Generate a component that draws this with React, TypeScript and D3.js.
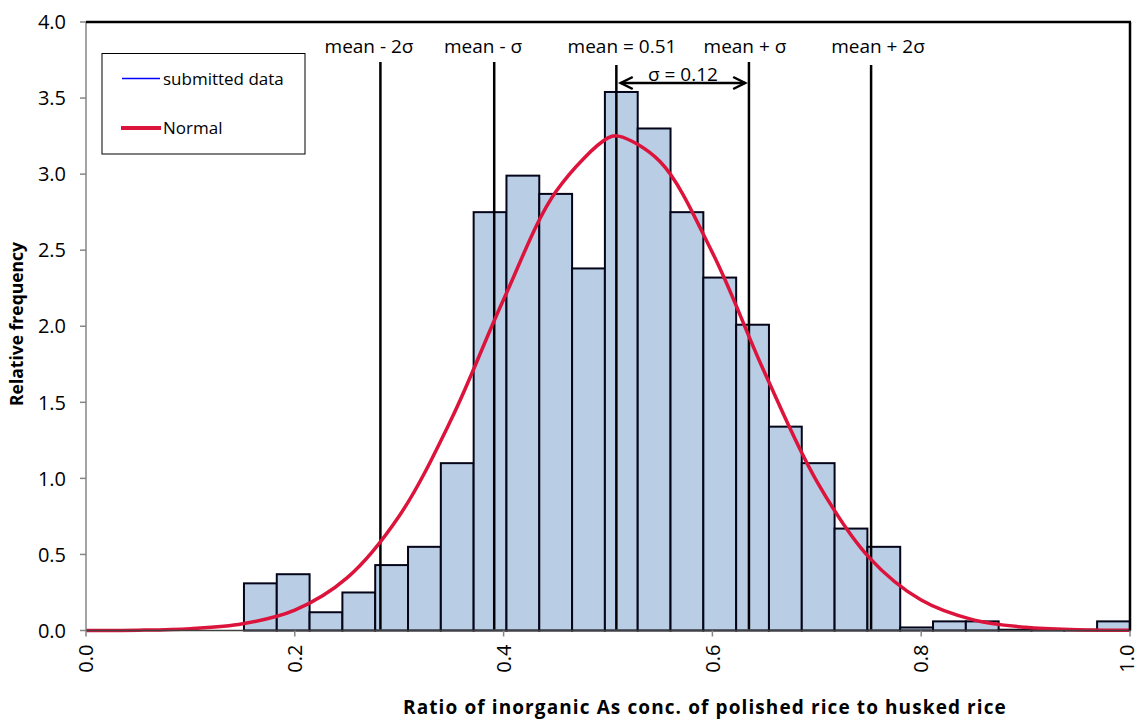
import React from "react";
import * as d3 from "d3";

// Histogram bins: first lower edge and common width (ratio units)
const binStart = 0.1513;
const binWidth = 0.03143;
const frequencies = [
  0.31, 0.37, 0.12, 0.25, 0.43, 0.55, 1.1, 2.75, 2.99, 2.87, 2.38, 3.54, 3.3,
  2.75, 2.32, 2.01, 1.34, 1.1, 0.67, 0.55, 0.02, 0.06, 0.06, 0.005, 0.005,
  0.005, 0.06,
];

// Fitted normal curve, sampled
const normalX = [
  0.0, 0.05, 0.1, 0.15, 0.2, 0.25, 0.3, 0.35, 0.4, 0.45, 0.5, 0.51, 0.55, 0.6,
  0.65, 0.7, 0.75, 0.8, 0.85, 0.9, 0.95, 1.0,
];
const normalY = [
  0.0005, 0.002, 0.012, 0.044, 0.134, 0.346, 0.753, 1.39, 2.176, 2.884, 3.238,
  3.25, 3.081, 2.484, 1.696, 0.981, 0.481, 0.2, 0.07, 0.021, 0.005, 0.001,
];

// Reference lines at mean and mean ± σ, 2σ
const refLineX = [0.282, 0.391, 0.508, 0.635, 0.752];
const refLabels = ["mean - 2σ", "mean - σ", "mean = 0.51", "mean + σ", "mean + 2σ"];
const refLabelX = [0.2711, 0.3803, 0.5134, 0.6312, 0.7586];
const sigmaArrow = [0.5122, 0.6314];
const sigmaLabel = "σ = 0.12";

const xTicks = [0, 0.2, 0.4, 0.6, 0.8, 1.0];
const yTicks = [0, 0.5, 1, 1.5, 2, 2.5, 3, 3.5, 4];

const W = 1139;
const H = 722;
const plot = { left: 86, right: 1130, top: 22, bottom: 630.5 };
const FONT = "'Open Sans', Carlito, Calibri, sans-serif";

export default function App() {
  const x = d3.scaleLinear().domain([0, 1]).range([plot.left, plot.right]);
  const y = d3.scaleLinear().domain([0, 4]).range([plot.bottom, plot.top]);

  const normalLine = d3
    .line<number>()
    .x((_, i) => x(normalX[i]))
    .y((d) => y(d))
    .curve(d3.curveCatmullRom.alpha(0.5))(normalY);

  const ax0 = x(sigmaArrow[0]);
  const ax1 = x(sigmaArrow[1]);
  const ay = 83;

  return (
    <svg
      width={W}
      height={H}
      style={{ position: "absolute", left: 0, top: 0, background: "#fff" }}
      fontFamily={FONT}
    >
      {/* bars */}
      <g>
        {frequencies.map((f, i) => {
          const x0 = x(binStart + i * binWidth);
          const x1 = x(binStart + (i + 1) * binWidth);
          return (
            <rect
              key={i}
              x={x0}
              y={y(f)}
              width={x1 - x0}
              height={y(0) - y(f)}
              fill="#b9cde5"
              stroke="#05051a"
              strokeWidth={2}
            />
          );
        })}
      </g>

      {/* reference lines */}
      {refLineX.map((v, i) => (
        <line
          key={i}
          x1={x(v)}
          x2={x(v)}
          y1={i === 2 || i === 4 ? 65 : 62}
          y2={y(0) - 1}
          stroke="#000"
          strokeWidth={2.5}
        />
      ))}

      {/* normal curve */}
      <path d={normalLine || ""} fill="none" stroke="#dc143c" strokeWidth={3.5} />

      {/* axes */}
      <line x1={plot.left} x2={plot.left} y1={plot.top} y2={plot.bottom} stroke="#868686" strokeWidth={1.5} />
      <line x1={plot.left} x2={plot.right} y1={plot.bottom} y2={plot.bottom} stroke="#404040" strokeWidth={1.5} />
      <line x1={plot.left} x2={plot.right + 1} y1={plot.top} y2={plot.top} stroke="#000" strokeWidth={2.5} />
      <line x1={plot.right} x2={plot.right} y1={plot.top} y2={plot.bottom} stroke="#000" strokeWidth={2.5} />

      {yTicks.map((t) => (
        <g key={t}>
          <line x1={plot.left - 6} x2={plot.left} y1={y(t)} y2={y(t)} stroke="#868686" strokeWidth={1.5} />
          <text x={66} y={y(t)} dy="0.36em" textAnchor="end" fontSize={20} fill="#000">
            {d3.format(".1f")(t)}
          </text>
        </g>
      ))}

      {xTicks.map((t) => (
        <g key={t}>
          <line x1={x(t)} x2={x(t)} y1={plot.bottom} y2={plot.bottom + 6} stroke="#868686" strokeWidth={1.5} />
          <text
            transform={`translate(${Math.min(x(t), 1127)},${plot.bottom + 14}) rotate(-90)`}
            dy="0.36em"
            textAnchor="end"
            fontSize={20}
            fill="#000"
          >
            {d3.format(".1f")(t)}
          </text>
        </g>
      ))}

      {/* reference labels */}
      {refLabels.map((s, i) => (
        <text key={i} x={x(refLabelX[i])} y={53} textAnchor="middle" fontSize={19} fill="#000">
          {s}
        </text>
      ))}

      {/* σ arrow */}
      <line x1={ax0} x2={ax1} y1={ay} y2={ay} stroke="#000" strokeWidth={2.5} />
      <path
        d={`M${ax0 + 12},${ay - 6} L${ax0},${ay} L${ax0 + 12},${ay + 6}`}
        fill="none"
        stroke="#000"
        strokeWidth={2.5}
      />
      <path
        d={`M${ax1 - 12},${ay - 6} L${ax1},${ay} L${ax1 - 12},${ay + 6}`}
        fill="none"
        stroke="#000"
        strokeWidth={2.5}
      />
      <text x={(ax0 + ax1) / 2} y={81} textAnchor="middle" fontSize={19} fill="#000">
        {sigmaLabel}
      </text>

      {/* legend */}
      <rect x={102} y={53.5} width={203} height={100.5} fill="#fff" stroke="#000" strokeWidth={1} />
      <line x1={122} x2={160} y1={78.5} y2={78.5} stroke="#0000ff" strokeWidth={1.5} />
      <text x={163} y={78.5} dy="0.36em" fontSize={17} fill="#000">
        submitted data
      </text>
      <line x1={121} x2={161} y1={128} y2={128} stroke="#dc143c" strokeWidth={4} />
      <text x={163} y={128} dy="0.36em" fontSize={17} fill="#000">
        Normal
      </text>

      {/* axis titles */}
      <text
        transform={`translate(17,${324}) rotate(-90)`}
        textAnchor="middle"
        dy="0.36em"
        fontSize={17.5}
        fontWeight="bold"
        fill="#000"
      >
        Relative frequency
      </text>
      <text
        x={705}
        y={714}
        textAnchor="middle"
        fontSize={19}
        letterSpacing={1.1}
        fontWeight="bold"
        fill="#000"
      >
        Ratio of inorganic As conc. of polished rice to husked rice
      </text>
    </svg>
  );
}
